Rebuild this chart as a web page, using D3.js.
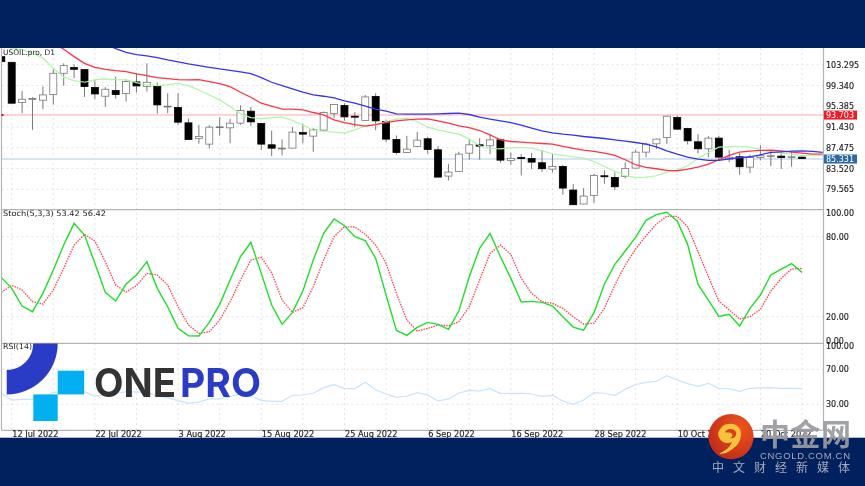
<!DOCTYPE html>
<html lang="en">
<head>
<meta charset="UTF-8">
<title>USOIL.pro D1</title>
<style>
  html, body { margin: 0; padding: 0; background: #00215e; }
  svg { display: block; filter: blur(0.3px); }
  text { font-family: "DejaVu Sans", sans-serif; }
  .axis path, .axis line { display: none; }
  .axis text { font-size: 8px; fill: #222; stroke: #222; stroke-width: 0.15px; }
</style>
</head>
<body>
<script src="https://d3js.org/d3.v7.min.js"></script>
<script>
// candles, one per bar
const opens = [104.83,103.75,96.09,96.72,96.53,97.61,101.66,102.74,102.36,98.94,97.29,98.37,97.80,100.02,99.13,99.32,95.26,95.14,92.22,89.24,88.17,91.33,91.27,92.16,94.44,92.09,88.04,87.28,87.40,90.38,89.69,90.83,94.00,95.52,93.49,92.66,97.23,92.47,89.05,86.58,87.72,89.18,87.09,82.08,82.97,86.45,88.04,87.85,88.99,85.06,85.63,85.44,84.62,83.41,83.92,79.42,76.76,78.41,82.14,81.83,82.02,83.60,86.64,88.23,89.43,93.23,91.14,88.61,87.28,89.31,85.31,85.76,83.79,85.63,85.82,85.88,85.63,85.69];
const highs = [105.15,103.75,98.30,97.10,99.13,102.42,103.56,103.37,102.36,100.40,99.00,101.03,100.52,101.66,103.56,99.89,97.86,97.86,93.04,91.84,91.78,93.30,92.98,95.58,95.26,92.09,90.76,89.05,91.40,92.03,91.21,94.38,95.71,95.96,94.25,97.54,97.86,92.79,89.81,89.75,90.51,89.56,87.79,84.36,86.71,89.12,89.31,90.00,89.18,86.58,86.26,86.45,87.02,86.33,84.17,80.56,79.80,82.53,83.16,82.78,84.68,87.09,88.48,89.24,93.55,93.61,91.27,90.07,89.69,89.75,87.09,86.45,86.14,87.97,86.90,86.90,86.71,85.82];
const lows = [103.88,95.96,94.06,90.89,94.82,95.71,99.32,100.71,97.16,96.72,95.26,96.85,96.28,97.99,98.18,94.00,94.06,91.84,88.99,88.23,87.34,89.81,88.36,91.84,91.65,87.09,85.88,86.01,87.40,88.36,86.71,90.76,93.17,92.60,91.40,92.60,90.83,88.55,86.20,86.52,87.66,86.33,81.83,81.26,82.91,85.19,85.19,86.26,84.62,84.24,82.21,83.41,82.91,82.78,78.53,76.63,76.70,76.95,80.62,79.42,81.64,83.54,85.63,87.21,88.23,90.89,88.10,86.39,85.69,85.19,84.74,82.33,82.65,85.06,83.98,83.41,83.86,85.31];
const closes = [103.88,95.96,96.72,96.85,97.54,101.66,103.12,102.42,99.13,97.73,98.62,97.61,100.08,99.25,99.95,95.64,95.39,92.35,89.05,89.62,91.40,91.46,92.16,94.57,92.41,88.17,87.40,87.40,90.45,90.07,90.89,94.19,95.71,93.36,93.30,97.16,92.60,89.12,86.58,87.21,88.93,87.15,81.89,82.84,86.26,88.04,87.79,88.99,85.12,85.44,85.44,84.74,83.48,83.92,79.80,76.63,78.28,82.21,81.95,80.05,83.54,86.64,88.17,89.12,93.49,91.02,88.80,87.28,89.31,85.69,85.69,83.86,85.63,85.95,85.95,85.63,85.76,85.44];

// moving averages, shifted two bars past the last candle
const maGreen = [106.86,106.48,106.16,105.47,104.58,102.61,100.90,100.27,99.95,100.40,100.59,100.46,100.40,99.89,99.44,99.32,99.44,99.76,99.32,98.49,97.54,96.59,95.33,93.93,93.23,93.04,93.23,93.30,92.66,91.84,90.76,90.57,90.45,90.26,90.89,91.65,91.84,92.47,92.92,93.11,92.47,91.40,90.89,90.45,90.07,89.12,87.85,87.34,87.28,87.47,87.53,87.40,86.90,86.33,86.01,85.76,85.50,84.87,83.92,82.97,82.14,81.83,81.89,82.14,82.84,83.29,84.05,85.50,86.58,87.59,87.72,87.72,87.59,87.09,86.64,86.45,86.20,86.01,85.95,85.95];
const maRed = [null,null,null,null,null,107.49,106.23,104.83,103.56,102.80,102.42,102.17,101.98,101.54,101.22,100.84,100.65,100.46,100.40,100.46,100.08,99.70,99.13,98.05,97.10,95.96,95.39,94.82,94.82,94.69,94.19,93.74,92.79,92.28,91.90,91.59,91.90,92.28,92.60,92.79,92.92,92.98,92.60,92.16,91.65,91.33,90.76,89.94,88.99,88.67,88.55,88.42,88.29,88.17,87.72,87.34,87.02,86.77,86.45,86.01,85.19,84.24,83.73,83.48,83.16,83.10,83.41,83.79,84.36,85.19,86.01,86.64,86.83,86.96,87.02,86.90,86.64,86.45,86.26,86.26];
const maBlue = [null,null,null,null,null,null,null,null,null,null,107.24,106.35,105.66,105.21,104.96,104.64,104.20,103.82,103.44,103.12,102.80,102.49,102.23,101.92,101.60,100.84,99.95,99.32,98.68,98.05,97.54,97.29,96.97,96.40,95.96,95.39,94.82,94.44,93.93,93.87,93.87,93.87,93.93,94.00,94.06,93.81,93.30,92.92,92.60,92.28,91.78,91.21,90.70,90.32,90.07,89.88,89.62,89.43,89.24,88.99,88.74,88.48,88.17,87.66,86.90,86.26,85.69,85.31,85.06,85.06,85.38,85.57,85.76,86.14,86.58,86.71,86.83,86.90,86.77,86.58];

const stochMain = [49.5,41.25,28,23.75,37.5,55,73.75,90,81.25,60,38.25,31.75,44.5,51.25,61.25,41.25,27.5,11.25,5.75,5.5,15.75,29.25,47.5,65,75.75,52.5,28.75,14.25,23.25,39.25,62.5,82.5,93.25,88.25,80,77,63.75,36.25,9.75,6,12,15.75,14.25,10.5,24.25,50,71.25,82.5,65,48.75,31,31.5,30.75,28,20,12.25,10,23,44.5,59.25,69.25,79.5,92.25,96.5,98.25,91.75,74.25,44.25,32.5,20.25,21.75,13,26.25,36.25,51.25,55.75,59.75,53.25];
const stochSignal = [38.25,43.5,40,31.25,29.5,40,56.25,73.75,81.75,76.75,61.25,43.75,38.5,43.25,52.5,51.25,43.75,27.5,13.75,7.5,8.75,17.5,31.25,47.5,62.5,64.5,53,32.5,23.25,26.75,42.5,62.5,80,87.5,87.25,81.75,73.75,60,37.5,17.5,9.25,11.25,13.75,13.25,16.25,27.5,47.5,67.5,73.75,66.75,48.75,37.5,31.25,30,26.25,20,14.5,15.25,26.25,43.75,58.75,70.75,80.75,89.5,95.25,95.25,87.5,68.75,50,31.75,25,18.25,20,25.5,39.25,48.75,55.75,56.25];
const rsiValues = [42.6,34.9,35.7,35.7,36.8,43.7,44.5,44.5,44.5,39.1,40.6,42.6,44.1,44.1,43.3,39.5,37.6,34.2,31.1,32.6,36.1,36.1,38.7,42.6,39.5,34.5,33.4,33.4,40.3,40.6,42.6,49.0,52.5,47.9,47.9,55.1,46.7,41.8,38.0,39.5,43.3,40.6,33.8,36.1,42.9,46.0,45.2,47.9,42.2,42.6,42.6,41.8,39.1,40.3,33.8,30.0,34.9,43.3,42.6,39.9,47.1,52.5,55.1,56.3,62.8,57.8,53.6,50.5,54.0,48.3,47.9,44.8,48.3,48.7,49.0,48.3,48.3,47.9];

const priceTicks = [103.295,99.340,95.385,91.430,87.475,83.520,79.565];
const stochTicks = [100,80,20,0];
const rsiTicks = [100,70,30];
const dateBars = [1,9,17,25,33,41,49,57,65,73];
const dateLabels = ["12 Jul 2022","22 Jul 2022","3 Aug 2022","15 Aug 2022","25 Aug 2022","6 Sep 2022","16 Sep 2022","28 Sep 2022","10 Oct 2022","20 Oct 2022"];
const gridBars = d3.range(1, 78, 4);
const resistance = 93.703, lastPrice = 85.331;

const w = 865, h = 486, left = 1.5, right = 823.5;
const top1 = 48, bot1 = 209.7, bot2 = 343.3, bot3 = 430.3;

const svg = d3.select("body").append("svg").attr("width", w).attr("height", h);
const defs = svg.append("defs");
const clipFor = (id, y0, y1) => defs.append("clipPath").attr("id", id).append("rect")
    .attr("x", left).attr("y", y0).attr("width", right - left).attr("height", y1 - y0);
clipFor("c1", top1, bot1); clipFor("c2", bot1, bot2); clipFor("c3", bot2, bot3);

const x = d3.scaleLinear().domain([1, 77]).range([11.7, 802]);
const yPrice = d3.scaleLinear().domain([103.295, 79.565]).range([64.7, 189.3]);
const yStoch = d3.scaleLinear().domain([100, 0]).range([210, 343.4]);
const yRsi = d3.scaleLinear().domain([100, 0]).range([343.05, 430.55]);

// backgrounds
svg.append("rect").attr("width", w).attr("height", h).attr("fill", "#00215e");
svg.append("rect").attr("y", top1).attr("width", w).attr("height", 437.7 - top1).attr("fill", "#fff");

// grid
const grid = svg.append("g").attr("stroke", "#dcdcdc").attr("stroke-width", 0.8).attr("stroke-dasharray", "2,3");
grid.selectAll(".gv").data(gridBars).join("line")
    .attr("x1", d => x(d)).attr("x2", d => x(d)).attr("y1", top1).attr("y2", bot3);
const hGrid = (ticks, y) => grid.append("g").selectAll("line").data(ticks).join("line")
    .attr("x1", left).attr("x2", right).attr("y1", d => y(d)).attr("y2", d => y(d));
hGrid(priceTicks, yPrice);
hGrid([80, 20], yStoch);
hGrid([70, 30], yRsi);

// price pane
const pane1 = svg.append("g").attr("clip-path", "url(#c1)");
const level = (v, col) => pane1.append("line").attr("x1", left).attr("x2", right)
    .attr("y1", yPrice(v)).attr("y2", yPrice(v)).attr("stroke", col).attr("stroke-width", 2);
level(resistance, "#ffd3d6");
level(lastPrice, "#d6e5f3");

const bars = d3.range(opens.length);
const candleW = 7;
pane1.append("g").selectAll("line").data(bars).join("line")
    .attr("x1", i => x(i)).attr("x2", i => x(i))
    .attr("y1", i => yPrice(highs[i])).attr("y2", i => yPrice(lows[i]))
    .attr("stroke", "#7a7a7a").attr("stroke-width", 1);
pane1.append("g").selectAll("rect").data(bars).join("rect")
    .attr("x", i => x(i) - candleW / 2).attr("width", candleW)
    .attr("y", i => yPrice(Math.max(opens[i], closes[i])))
    .attr("height", i => Math.max(0.8, Math.abs(yPrice(opens[i]) - yPrice(closes[i]))))
    .attr("fill", i => closes[i] < opens[i] ? "#000" : "#fff")
    .attr("stroke", i => closes[i] < opens[i] ? "#000" : "#777")
    .attr("stroke-width", 0.8);

const lineOn = (y) => d3.line().defined(d => d !== null).x((d, i) => x(i)).y(d => y(d));
const drawLine = (g, vals, y, col, sw, dash) => g.append("path").datum(vals)
    .attr("d", lineOn(y)).attr("fill", "none").attr("stroke", col)
    .attr("stroke-width", sw).attr("stroke-dasharray", dash || null);
drawLine(pane1, maGreen, yPrice, "#aef5a6", 1.2);
drawLine(pane1, maRed, yPrice, "#ff3348", 1.3);
drawLine(pane1, maBlue, yPrice, "#3434f0", 1.3);

// stochastic
const pane2 = svg.append("g").attr("clip-path", "url(#c2)");
drawLine(pane2, stochSignal, yStoch, "#ff3344", 1.3, "1.4,1.2");
drawLine(pane2, stochMain, yStoch, "#22dd2c", 1.4);

// rsi
const pane3 = svg.append("g").attr("clip-path", "url(#c3)");
drawLine(pane3, rsiValues, yRsi, "#c6e4fb", 1.2);

// frame
const frame = svg.append("g").attr("stroke", "#b4b4b4").attr("stroke-width", 1.2);
[bot1, bot2, bot3].forEach(y => frame.append("line").attr("x1", left).attr("x2", right).attr("y1", y).attr("y2", y));
frame.append("line").attr("x1", left).attr("x2", left).attr("y1", top1).attr("y2", bot3);
frame.append("line").attr("x1", right).attr("x2", right).attr("y1", top1).attr("y2", bot3);
svg.append("rect").attr("x", 1.5).attr("y", yPrice(resistance) - 1).attr("width", 2).attr("height", 2).attr("fill", "#d01020");

// axes
const rightAxis = (y, ticks, fmt) => {
    const g = svg.append("g").attr("class", "axis").attr("transform", `translate(${right},0)`)
        .call(d3.axisRight(y).tickValues(ticks).tickFormat(fmt).tickSize(0).tickPadding(2.5));
    return g;
};
rightAxis(yPrice, priceTicks, d3.format(".3f"));
rightAxis(yStoch, stochTicks, d3.format(".2f")).selectAll("text")
    .attr("dy", d => d === 0 ? "0em" : "0.32em")
    .attr("y", d => d === 100 ? 2.5 : 0);
rightAxis(yRsi, rsiTicks, d3.format(".2f")).selectAll("text")
    .attr("y", d => d === 100 ? 3 : 0);

const xAxis = d3.axisBottom(x).tickValues(dateBars).tickFormat((d, i) => dateLabels[i]).tickSize(0).tickPadding(0);
svg.append("g").attr("class", "axis").attr("transform", `translate(0,${bot3})`).call(xAxis)
    .selectAll("text").attr("text-anchor", "start").attr("y", 0).attr("dy", "6.5px").style("font-size", "8.2px");

// last price tags
const tag = (v, col, label) => {
    const g = svg.append("g");
    g.append("rect").attr("x", right + 0.5).attr("y", yPrice(v) - 4.5).attr("width", 33).attr("height", 9).attr("fill", col);
    g.append("text").attr("x", right + 2.5).attr("y", yPrice(v) + 3).attr("fill", "#fff")
        .style("font-size", "8px").text(label);
};
tag(resistance, "#ee1c25", d3.format(".3f")(resistance));
tag(lastPrice, "#2d6aa3", d3.format(".3f")(lastPrice));

// pane captions
const caption = (label, yy, len) => svg.append("text").attr("x", 3).attr("y", yy).attr("fill", "#222")
    .attr("textLength", len).attr("lengthAdjust", "spacingAndGlyphs").style("font-size", "7.6px").text(label);
caption("USOIL.pro, D1", 54.5, 52);
caption("Stoch(5,3,3) 53.42 56.42", 215.5, 103);
caption("RSI(14)", 349, 29);

// ONEPRO logo
const logo = svg.append("g");
logo.append("path").attr("transform", "translate(6.7,343.5)")
    .attr("d", d3.arc().innerRadius(26.5).outerRadius(51)({ startAngle: Math.PI / 2, endAngle: Math.PI }))
    .attr("fill", "#2a3cc6");
logo.append("rect").attr("x", 57.7).attr("y", 370.7).attr("width", 26.5).attr("height", 23.7).attr("fill", "#02b0f2");
logo.append("rect").attr("x", 33.3).attr("y", 394.4).attr("width", 24.4).attr("height", 26.6).attr("fill", "#02b0f2");
const word = (label, xx, len, col) => logo.append("text").attr("x", xx).attr("y", 397)
    .attr("textLength", len).attr("lengthAdjust", "spacingAndGlyphs")
    .attr("fill", col).style("font-family", "Inter, sans-serif").style("font-weight", 700).style("font-size", "40px").text(label);
word("ONE", 94, 82, "#333333");
word("PRO", 180, 81, "#2a3cc6");

// CNGOLD logo
const grad = defs.append("radialGradient").attr("id", "gold").attr("cx", "70%").attr("cy", "30%").attr("r", "80%");
grad.append("stop").attr("offset", "0%").attr("stop-color", "#f0551c");
grad.append("stop").attr("offset", "100%").attr("stop-color", "#bf2a1a");
const mark = svg.append("g");
mark.append("circle").attr("cx", 731).attr("cy", 436.7).attr("r", 22.6).attr("fill", "url(#gold)");
mark.append("path").attr("fill", "#f9c23c")
    .attr("d", "M729 424c7-1 12 4 12 10c0 8-5 13-10 16c-4 3-8 4-12 4c5-3 11-6 13-12c-4 2-10 1-12-3c-3-4-2-8 1-11c1-2 4-4 8-4z");
mark.append("path").attr("fill", "#d8401c")
    .attr("d", "M725 432c2-4 9-4 11 0c1 4-2 7-6 6c3-1 3-4 1-5c-2-1-5 0-6-1z");
const cjk = "'Noto Sans CJK SC', sans-serif";
mark.append("text").attr("x", 760).attr("y", 444.5).attr("fill", "#999b9f").attr("fill-opacity", 0.93)
    .attr("textLength", 91).style("font-family", cjk).style("font-weight", 700).style("font-size", "30px").text("中金网");
mark.append("text").attr("x", 760).attr("y", 458.5).attr("fill", "#a4abb8")
    .attr("textLength", 90).style("font-family", "'Liberation Sans', sans-serif").style("font-size", "9.5px").text("CNGOLD.COM.CN");
mark.append("text").attr("x", 712).attr("y", 472).attr("fill", "#a4abb8")
    .attr("textLength", 138).style("font-family", cjk).style("font-size", "12px").text("中文财经新媒体");
</script>
</body>
</html>
